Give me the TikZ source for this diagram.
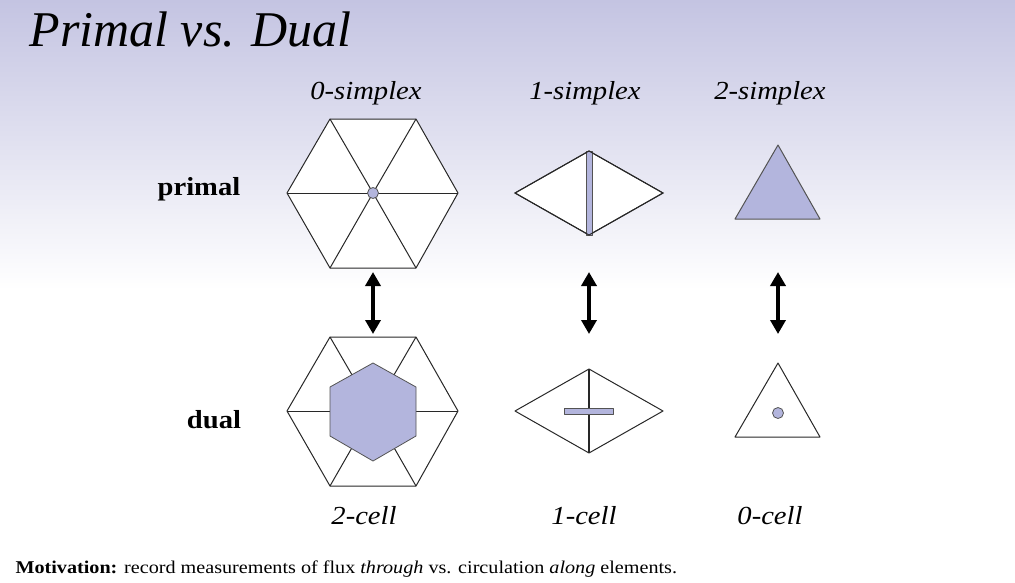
\documentclass[tikz,border=0pt]{standalone}
\usepackage{fontspec}
\setmainfont{Liberation Serif}
\newfontfamily\widefont[FakeStretch=1.1]{Liberation Serif}
\newfontfamily\motfont[FakeStretch=1.12]{Liberation Serif}
\usetikzlibrary{arrows.meta}
\definecolor{lav}{RGB}{179,181,221}
\definecolor{bgtop}{RGB}{196,196,226}
\definecolor{edge}{RGB}{40,40,40}
\begin{document}
\begin{tikzpicture}[x=1pt,y=-1pt,
  cellshape/.style={draw=edge,line width=1pt,fill=white,line join=round},
  lavfill/.style={draw=edge!80,line width=0.8pt,fill=lav,line join=round},
  lbl/.style={font=\widefont\fontsize{26}{30}\selectfont\itshape,anchor=base},
  rowlbl/.style={font=\widefont\fontsize{26}{30}\selectfont\bfseries,anchor=base},
  dbl/.style={line width=4pt,{Triangle[width=15pt,length=14pt]}-{Triangle[width=15pt,length=14pt]}}
]
\useasboundingbox (0,0) rectangle (1015,582);
\fill[white] (0,0) rectangle (1015,582);
\shade[top color=bgtop,bottom color=white] (0,0) rectangle (1015,290);

\node[anchor=base west,font=\fontsize{50}{58}\selectfont\itshape] (title) at (26,46) {Primal vs. Dual};

\node[lbl] (l0s) at (366,99) {0-simplex};
\node[lbl] (l1s) at (585,99) {1-simplex};
\node[lbl] (l2s) at (770,99) {2-simplex};
\node[rowlbl] (lprimal) at (199,195) {primal};
\node[rowlbl] (ldual) at (214,428) {dual};
\node[lbl] (l2c) at (364,524) {2-cell};
\node[lbl] (l1c) at (584,524) {1-cell};
\node[lbl] (l0c) at (770,524) {0-cell};

% primal hexagon
\coordinate (pc) at (373,193);
\draw[cellshape] (287,193) -- (330,119) -- (416,119) -- (458,193) -- (416,268) -- (330,268) -- cycle;
\foreach \p in {(287,193),(330,119),(416,119),(458,193),(416,268),(330,268)}
  \draw[edge,line width=1pt] (pc) -- \p;
\node[circle,minimum size=11pt,inner sep=0pt,lavfill] (pdot) at (pc) {};

% dual hexagon
\coordinate (dc) at (373,411);
\draw[cellshape] (287,411) -- (330,337) -- (416,337) -- (458,411) -- (416,486) -- (330,486) -- cycle;
\foreach \p in {(287,411),(330,337),(416,337),(458,411),(416,486),(330,486)}
  \draw[edge,line width=1pt] (dc) -- \p;
\draw[lavfill] (373,363) -- (416,387) -- (416,436) -- (373,461) -- (330,436) -- (330,387) -- cycle;

% primal 1-simplex
\draw[cellshape] (515,193) -- (589,151) -- (663,193) -- (589,235) -- cycle;
\draw[lavfill] (586,151) rectangle (592,235);
\draw[edge,line width=1pt] (515,193) -- (589,151) -- (663,193) -- (589,235) -- cycle;

% dual 1-cell
\draw[cellshape] (515,411) -- (589,369) -- (663,411) -- (589,453) -- cycle;
\draw[edge,line width=1.2pt] (589,369) -- (589,453);
\draw[lavfill] (564,408) rectangle (613,414);

% primal 2-simplex
\draw[lavfill,line width=1pt] (735,219) -- (778,145) -- (820,219) -- cycle;

% dual 0-cell
\draw[cellshape] (735,437) -- (778,363) -- (820,437) -- cycle;
\node[circle,minimum size=11pt,inner sep=0pt,lavfill] (ddot) at (778,413) {};

% arrows
\coordinate (a0t) at (373,272); \coordinate (a0b) at (373,334);
\coordinate (a1t) at (589,272); \coordinate (a1b) at (589,334);
\coordinate (a2t) at (778,272); \coordinate (a2b) at (778,334);
\draw[dbl] (a0t) -- (a0b);
\draw[dbl] (a1t) -- (a1b);
\draw[dbl] (a2t) -- (a2b);

\node[anchor=base west,font=\motfont\fontsize{18}{21}\selectfont] (mot) at (12,573) {\textbf{Motivation:} record measurements of flux \textit{through} vs. circulation \textit{along} elements.};
\end{tikzpicture}
\end{document}
